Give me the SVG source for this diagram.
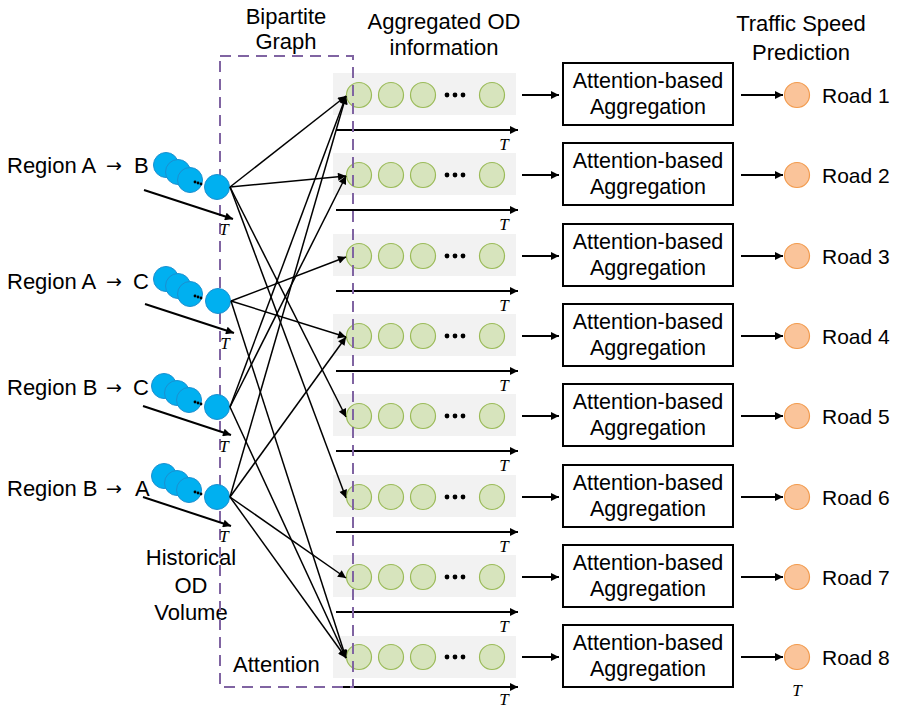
<svg xmlns="http://www.w3.org/2000/svg" width="897" height="708" viewBox="0 0 897 708">
<defs>
<marker id="ah" viewBox="0 0 10 10" refX="10" refY="5" markerWidth="10" markerHeight="8" markerUnits="userSpaceOnUse" orient="auto"><path d="M0,0 L10,5 L0,10 z" fill="#000"/></marker>
</defs>
<style>
text{font-family:"Liberation Sans",Arial,sans-serif;fill:#000}
.lbl{font-size:22px}
.arr{font-family:"DejaVu Sans",sans-serif;font-size:19px}
.box-t{font-size:21.5px;text-anchor:middle}
.road{font-size:21px}
.t{font-family:"Liberation Serif","Times New Roman",serif;font-style:italic;font-size:17px;text-anchor:middle}
.ttl{font-size:22px;text-anchor:middle}
.bg{fill:#F2F2F2}
.gc{fill:#D7E4BD;stroke:#9BBB59;stroke-width:1.2}
.bc{fill:#00B0F0;stroke:#1A8FD0;stroke-width:1}
.oc{fill:#FAC49A;stroke:#F29B4E;stroke-width:1.2}
.dot{fill:#000}
.box{fill:#fff;stroke:#000;stroke-width:2}
.ax{stroke:#000;stroke-width:2;fill:none;marker-end:url(#ah)}
.cn{stroke:#000;stroke-width:1.5;fill:none;marker-end:url(#ah)}
.frame{fill:none;stroke:#8064A2;stroke-width:2;stroke-dasharray:11 7}
</style>

<g id="titles">
<text class="ttl" x="286" y="24">Bipartite</text>
<text class="ttl" x="286" y="49">Graph</text>
<text class="ttl" x="444" y="29">Aggregated OD</text>
<text class="ttl" x="444" y="55">information</text>
<text class="ttl" x="801" y="31">Traffic Speed</text>
<text class="ttl" x="801" y="60">Prediction</text>
<text class="lbl" x="191" y="565" text-anchor="middle">Historical</text>
<text class="lbl" x="191" y="593" text-anchor="middle">OD</text>
<text class="lbl" x="191" y="620" text-anchor="middle">Volume</text>
<text class="lbl" x="233" y="672">Attention</text>
</g>

<g id="row1">
<rect class="bg" x="333" y="73" width="183" height="42"/>
<circle class="gc" cx="359" cy="95" r="12.5"/><circle class="gc" cx="391" cy="95" r="12.5"/><circle class="gc" cx="423" cy="95" r="12.5"/>
<circle class="dot" cx="447" cy="95" r="2.4"/><circle class="dot" cx="455" cy="95" r="2.4"/><circle class="dot" cx="463" cy="95" r="2.4"/>
<circle class="gc" cx="492" cy="95" r="12.5"/>
<line class="ax" x1="336" y1="130" x2="518" y2="130"/><text class="t" x="504" y="150">T</text>
</g>
<g id="row2">
<rect class="bg" x="333" y="153" width="183" height="42"/>
<circle class="gc" cx="359" cy="175" r="12.5"/><circle class="gc" cx="391" cy="175" r="12.5"/><circle class="gc" cx="423" cy="175" r="12.5"/>
<circle class="dot" cx="447" cy="175" r="2.4"/><circle class="dot" cx="455" cy="175" r="2.4"/><circle class="dot" cx="463" cy="175" r="2.4"/>
<circle class="gc" cx="492" cy="175" r="12.5"/>
<line class="ax" x1="336" y1="210" x2="518" y2="210"/><text class="t" x="504" y="230">T</text>
</g>
<g id="row3">
<rect class="bg" x="333" y="234" width="183" height="42"/>
<circle class="gc" cx="359" cy="256" r="12.5"/><circle class="gc" cx="391" cy="256" r="12.5"/><circle class="gc" cx="423" cy="256" r="12.5"/>
<circle class="dot" cx="447" cy="256" r="2.4"/><circle class="dot" cx="455" cy="256" r="2.4"/><circle class="dot" cx="463" cy="256" r="2.4"/>
<circle class="gc" cx="492" cy="256" r="12.5"/>
<line class="ax" x1="336" y1="291" x2="518" y2="291"/><text class="t" x="504" y="311">T</text>
</g>
<g id="row4">
<rect class="bg" x="333" y="314" width="183" height="42"/>
<circle class="gc" cx="359" cy="336" r="12.5"/><circle class="gc" cx="391" cy="336" r="12.5"/><circle class="gc" cx="423" cy="336" r="12.5"/>
<circle class="dot" cx="447" cy="336" r="2.4"/><circle class="dot" cx="455" cy="336" r="2.4"/><circle class="dot" cx="463" cy="336" r="2.4"/>
<circle class="gc" cx="492" cy="336" r="12.5"/>
<line class="ax" x1="336" y1="371" x2="518" y2="371"/><text class="t" x="504" y="391">T</text>
</g>
<g id="row5">
<rect class="bg" x="333" y="394" width="183" height="42"/>
<circle class="gc" cx="359" cy="416" r="12.5"/><circle class="gc" cx="391" cy="416" r="12.5"/><circle class="gc" cx="423" cy="416" r="12.5"/>
<circle class="dot" cx="447" cy="416" r="2.4"/><circle class="dot" cx="455" cy="416" r="2.4"/><circle class="dot" cx="463" cy="416" r="2.4"/>
<circle class="gc" cx="492" cy="416" r="12.5"/>
<line class="ax" x1="336" y1="451" x2="518" y2="451"/><text class="t" x="504" y="471">T</text>
</g>
<g id="row6">
<rect class="bg" x="333" y="475" width="183" height="42"/>
<circle class="gc" cx="359" cy="497" r="12.5"/><circle class="gc" cx="391" cy="497" r="12.5"/><circle class="gc" cx="423" cy="497" r="12.5"/>
<circle class="dot" cx="447" cy="497" r="2.4"/><circle class="dot" cx="455" cy="497" r="2.4"/><circle class="dot" cx="463" cy="497" r="2.4"/>
<circle class="gc" cx="492" cy="497" r="12.5"/>
<line class="ax" x1="336" y1="532" x2="518" y2="532"/><text class="t" x="504" y="552">T</text>
</g>
<g id="row7">
<rect class="bg" x="333" y="555" width="183" height="42"/>
<circle class="gc" cx="359" cy="577" r="12.5"/><circle class="gc" cx="391" cy="577" r="12.5"/><circle class="gc" cx="423" cy="577" r="12.5"/>
<circle class="dot" cx="447" cy="577" r="2.4"/><circle class="dot" cx="455" cy="577" r="2.4"/><circle class="dot" cx="463" cy="577" r="2.4"/>
<circle class="gc" cx="492" cy="577" r="12.5"/>
<line class="ax" x1="336" y1="612" x2="518" y2="612"/><text class="t" x="504" y="632">T</text>
</g>
<g id="row8">
<rect class="bg" x="333" y="636" width="183" height="42"/>
<circle class="gc" cx="359" cy="657" r="12.5"/><circle class="gc" cx="391" cy="657" r="12.5"/><circle class="gc" cx="423" cy="657" r="12.5"/>
<circle class="dot" cx="447" cy="657" r="2.4"/><circle class="dot" cx="455" cy="657" r="2.4"/><circle class="dot" cx="463" cy="657" r="2.4"/>
<circle class="gc" cx="492" cy="657" r="12.5"/>
<line class="ax" x1="336" y1="687" x2="518" y2="687"/><text class="t" x="504" y="705">T</text>
</g>

<rect class="frame" x="220" y="56" width="133" height="631"/>

<g id="srcAB">
<text class="lbl" x="7" y="173">Region A</text><text class="arr" x="106" y="172">→</text><text class="lbl" x="134" y="173">B</text>
<circle class="bc" cx="166" cy="165" r="12.5"/><circle class="bc" cx="178" cy="172" r="12.5"/><circle class="bc" cx="190" cy="180" r="12.5"/>
<circle class="dot" cx="195" cy="182" r="1.4"/><circle class="dot" cx="198" cy="183" r="1.4"/><circle class="dot" cx="201" cy="184" r="1.4"/>
<circle class="bc" cx="217" cy="187" r="12.5"/>
<line class="ax" x1="144" y1="190" x2="233" y2="219"/><text class="t" x="224" y="235">T</text>
</g>
<g id="srcAC">
<text class="lbl" x="7" y="289">Region A</text><text class="arr" x="106" y="288">→</text><text class="lbl" x="133" y="289">C</text>
<circle class="bc" cx="166" cy="279" r="12.5"/><circle class="bc" cx="178" cy="286" r="12.5"/><circle class="bc" cx="190" cy="294" r="12.5"/>
<circle class="dot" cx="195" cy="296" r="1.4"/><circle class="dot" cx="198" cy="297" r="1.4"/><circle class="dot" cx="201" cy="298" r="1.4"/>
<circle class="bc" cx="218" cy="301" r="12.5"/>
<line class="ax" x1="145" y1="304" x2="234" y2="333"/><text class="t" x="225" y="349">T</text>
</g>
<g id="srcBC">
<text class="lbl" x="7" y="395">Region B</text><text class="arr" x="106" y="394">→</text><text class="lbl" x="133" y="395">C</text>
<circle class="bc" cx="164" cy="386" r="12.5"/><circle class="bc" cx="177" cy="393" r="12.5"/><circle class="bc" cx="189" cy="400" r="12.5"/>
<circle class="dot" cx="195" cy="402" r="1.4"/><circle class="dot" cx="198" cy="403" r="1.4"/><circle class="dot" cx="201" cy="404" r="1.4"/>
<circle class="bc" cx="217" cy="407" r="12.5"/>
<line class="ax" x1="143" y1="406" x2="231" y2="435"/><text class="t" x="224" y="452">T</text>
</g>
<g id="srcBA">
<text class="lbl" x="7" y="496">Region B</text><text class="arr" x="106" y="495">→</text><text class="lbl" x="135" y="496">A</text>
<circle class="bc" cx="164" cy="476" r="12.5"/><circle class="bc" cx="177" cy="483" r="12.5"/><circle class="bc" cx="189" cy="490" r="12.5"/>
<circle class="dot" cx="195" cy="492" r="1.4"/><circle class="dot" cx="198" cy="493" r="1.4"/><circle class="dot" cx="201" cy="494" r="1.4"/>
<circle class="bc" cx="217" cy="497" r="12.5"/>
<line class="ax" x1="143" y1="497" x2="231" y2="526"/><text class="t" x="224" y="542">T</text>
</g>

<g id="agg1"><rect class="box" x="563" y="63" width="170" height="62"/><text class="box-t" x="648" y="88">Attention-based</text><text class="box-t" x="648" y="114">Aggregation</text></g>
<g id="agg2"><rect class="box" x="563" y="143" width="170" height="62"/><text class="box-t" x="648" y="168">Attention-based</text><text class="box-t" x="648" y="194">Aggregation</text></g>
<g id="agg3"><rect class="box" x="563" y="224" width="170" height="62"/><text class="box-t" x="648" y="249">Attention-based</text><text class="box-t" x="648" y="275">Aggregation</text></g>
<g id="agg4"><rect class="box" x="563" y="304" width="170" height="62"/><text class="box-t" x="648" y="329">Attention-based</text><text class="box-t" x="648" y="355">Aggregation</text></g>
<g id="agg5"><rect class="box" x="563" y="384" width="170" height="62"/><text class="box-t" x="648" y="409">Attention-based</text><text class="box-t" x="648" y="435">Aggregation</text></g>
<g id="agg6"><rect class="box" x="563" y="465" width="170" height="62"/><text class="box-t" x="648" y="490">Attention-based</text><text class="box-t" x="648" y="516">Aggregation</text></g>
<g id="agg7"><rect class="box" x="563" y="545" width="170" height="62"/><text class="box-t" x="648" y="570">Attention-based</text><text class="box-t" x="648" y="596">Aggregation</text></g>
<g id="agg8"><rect class="box" x="563" y="625" width="170" height="62"/><text class="box-t" x="648" y="650">Attention-based</text><text class="box-t" x="648" y="676">Aggregation</text></g>

<g id="road1"><circle class="oc" cx="797" cy="95" r="12.5"/><text class="road" x="822" y="103">Road 1</text></g>
<g id="road2"><circle class="oc" cx="797" cy="175" r="12.5"/><text class="road" x="822" y="183">Road 2</text></g>
<g id="road3"><circle class="oc" cx="797" cy="256" r="12.5"/><text class="road" x="822" y="264">Road 3</text></g>
<g id="road4"><circle class="oc" cx="797" cy="336" r="12.5"/><text class="road" x="822" y="344">Road 4</text></g>
<g id="road5"><circle class="oc" cx="797" cy="416" r="12.5"/><text class="road" x="822" y="424">Road 5</text></g>
<g id="road6"><circle class="oc" cx="797" cy="497" r="12.5"/><text class="road" x="822" y="505">Road 6</text></g>
<g id="road7"><circle class="oc" cx="797" cy="577" r="12.5"/><text class="road" x="822" y="585">Road 7</text></g>
<g id="road8"><circle class="oc" cx="797" cy="657" r="12.5"/><text class="road" x="822" y="665">Road 8</text><text class="t" x="797" y="696">T</text></g>

<g id="connectors">
<line class="cn" x1="230" y1="187" x2="346" y2="96"/>
<line class="cn" x1="230" y1="187" x2="346" y2="176"/>
<line class="cn" x1="230" y1="187" x2="346" y2="417"/>
<line class="cn" x1="230" y1="187" x2="346" y2="498"/>
<line class="cn" x1="231" y1="301" x2="346" y2="257"/>
<line class="cn" x1="231" y1="301" x2="346" y2="337"/>
<line class="cn" x1="231" y1="301" x2="346" y2="658"/>
<line class="cn" x1="230" y1="407" x2="346" y2="96"/>
<line class="cn" x1="230" y1="407" x2="346" y2="176"/>
<line class="cn" x1="230" y1="407" x2="346" y2="658"/>
<line class="cn" x1="230" y1="497" x2="346" y2="96"/>
<line class="cn" x1="230" y1="497" x2="346" y2="337"/>
<line class="cn" x1="230" y1="497" x2="346" y2="578"/>
<line class="cn" x1="230" y1="497" x2="346" y2="658"/>
<line class="ax" x1="522" y1="95" x2="559" y2="95"/>
<line class="ax" x1="522" y1="175" x2="559" y2="175"/>
<line class="ax" x1="522" y1="256" x2="559" y2="256"/>
<line class="ax" x1="522" y1="336" x2="559" y2="336"/>
<line class="ax" x1="522" y1="416" x2="559" y2="416"/>
<line class="ax" x1="522" y1="497" x2="559" y2="497"/>
<line class="ax" x1="522" y1="577" x2="559" y2="577"/>
<line class="ax" x1="522" y1="657" x2="559" y2="657"/>
<line class="ax" x1="741" y1="95" x2="783" y2="95"/>
<line class="ax" x1="741" y1="175" x2="783" y2="175"/>
<line class="ax" x1="741" y1="256" x2="783" y2="256"/>
<line class="ax" x1="741" y1="336" x2="783" y2="336"/>
<line class="ax" x1="741" y1="416" x2="783" y2="416"/>
<line class="ax" x1="741" y1="497" x2="783" y2="497"/>
<line class="ax" x1="741" y1="577" x2="783" y2="577"/>
<line class="ax" x1="741" y1="657" x2="783" y2="657"/>
</g>
</svg>
